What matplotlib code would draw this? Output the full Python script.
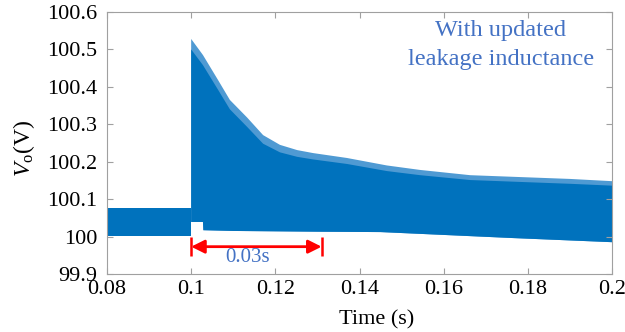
import numpy as np
import matplotlib
matplotlib.use('Agg')
import matplotlib.pyplot as plt
from matplotlib.ticker import FuncFormatter

plt.rcParams['font.family'] = ['Liberation Serif', 'DejaVu Serif']
plt.rcParams['mathtext.fontset'] = 'custom'
plt.rcParams['mathtext.rm'] = 'Liberation Serif'
plt.rcParams['mathtext.it'] = 'Liberation Serif:italic'

# envelope of the output voltage ripple
t_pre = [0.08, 0.1]
upper_pre = [100.075, 100.075]
lower_pre = [100.002, 100.002]

t_up = [0.1, 0.1028, 0.1064, 0.1092, 0.1133, 0.1171, 0.1211, 0.1252, 0.129,
        0.137, 0.1465, 0.1544, 0.1663, 0.1781, 0.19, 0.2]
v_up = [100.528, 100.485, 100.418, 100.365, 100.318, 100.271, 100.245, 100.231, 100.223,
        100.21, 100.19, 100.178, 100.164, 100.159, 100.154, 100.148]
# top of the dark core (below the lighter ripple spikes)
v_core = [100.5, 100.458, 100.392, 100.34, 100.293, 100.248, 100.225, 100.213, 100.206,
          100.194, 100.175, 100.164, 100.151, 100.146, 100.141, 100.136]

t_lo = [0.1, 0.1028, 0.1029, 0.11, 0.12, 0.13, 0.145, 0.1765, 0.2]
v_lo = [100.039, 100.039, 100.017, 100.015, 100.014, 100.013, 100.012, 99.996, 99.985]

xticks = [0.08, 0.1, 0.12, 0.14, 0.16, 0.18, 0.2]
yticks = [99.9, 100, 100.1, 100.2, 100.3, 100.4, 100.5, 100.6]

fig = plt.figure(figsize=(6.25, 3.32), dpi=100)
ax = fig.add_axes([0.1712, 0.1747, 0.808, 0.7892])

blue = '#0072BD'
light = '#4F9AD3'

ax.fill_between(t_pre, lower_pre, upper_pre, color=blue, lw=0)
ax.fill(np.r_[t_up, t_lo[::-1]], np.r_[v_up, v_lo[::-1]], color=light, lw=0)
ax.fill(np.r_[t_up, t_lo[::-1]], np.r_[v_core, v_lo[::-1]], color=blue, lw=0)

# 0.03 s settling marker
ax.vlines([0.1, 0.131], 99.948, 99.999, color='red', lw=1.8)
ax.annotate('', xy=(0.1, 99.973), xytext=(0.131, 99.973),
            arrowprops=dict(arrowstyle='<|-|>', color='red', lw=2, mutation_scale=20,
                            shrinkA=0, shrinkB=0))
ax.text(0.1134, 99.945, '0.03s', color='#4472C4', fontsize=15, ha='center', va='center')

ax.text(0.1736, 100.512, 'With updated\nleakage inductance', color='#4472C4',
        fontsize=17.5, ha='center', va='center', linespacing=1.45)

ax.set_xlim(0.08, 0.2)
ax.set_ylim(99.9, 100.6)
ax.set_xticks(xticks)
ax.set_yticks(yticks)
fmt = FuncFormatter(lambda v, p: '%g' % round(v, 3))
ax.xaxis.set_major_formatter(fmt)
ax.yaxis.set_major_formatter(fmt)
ax.tick_params(direction='in', length=4, width=0.8, color='#A0A0A0',
               labelsize=16, top=True, right=True)
ax.tick_params(axis='x', pad=4)
ax.tick_params(axis='y', pad=7)
for s in ax.spines.values():
    s.set_color('#A0A0A0')
    s.set_linewidth(0.8)

ax.set_xlabel('Time (s)', fontsize=16)
ax.xaxis.set_label_coords(0.533, -0.14)
ax.set_ylabel('$V_\\mathrm{o}$(V)', fontsize=17)
ax.yaxis.set_label_coords(-0.139, 0.48)

fig.savefig('out.png', dpi=100)
